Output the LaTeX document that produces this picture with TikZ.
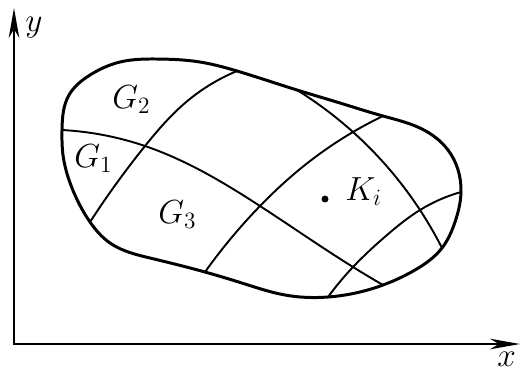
\RequirePackage{fix-cm}
\documentclass[tikz,border=0pt]{standalone}
\usetikzlibrary{arrows.meta, hobby}

\begin{document}
\begin{tikzpicture}[x=0.02cm, y=-0.02cm, font=\fontsize{19}{23}\selectfont,
    axis/.style={line width=1.4pt, {Stealth[length=17pt, width=6pt, inset=5pt]}-{Stealth[length=17pt, width=6pt, inset=5pt]}},
    rim/.style={line width=1.7pt},
    cut/.style={line width=1.1pt},
    lbl/.style={anchor=base west, inner sep=0pt}]
    \useasboundingbox (0,0) rectangle (520,370);
    % axes
    \coordinate (O) at (14,344);
    \coordinate (xend) at (520,344);
    \coordinate (yend) at (14,8);
    \draw[axis] (yend) |- (xend);
    \node[lbl] (ylab) at (25,31) {$y$};
    \node[lbl] (xlab) at (497,366) {$x$};
    % points where the cuts meet the rim
    \coordinate (a1) at (62,130);  \coordinate (a2) at (383,285);
    \coordinate (b1) at (237,71);  \coordinate (b2) at (90,222);
    \coordinate (c1) at (297,90);  \coordinate (c2) at (442,248);
    \coordinate (d1) at (383,116); \coordinate (d2) at (205,272);
    \coordinate (e1) at (461,192); \coordinate (e2) at (328,297);
    % crossings
    \coordinate (ab) at (145,146);
    \coordinate (ad) at (260,206);
    \coordinate (cd) at (353,132);
    \coordinate (ce) at (420,210);
    \coordinate (ae) at (353,267);
    % region
    \draw[rim] plot[closed hobby] coordinates {
        (a1) (69,95) (90,75) (120,62) (157,59) (200,62) (b1) (c1) (340,103)
        (d1) (422,129) (448,150) (e1) (455,222) (c2) (415,270) (a2) (e2)
        (285,295) (245,284) (d2) (150,258) (110,243) (b2) (72,188) (63,155)};
    % cuts
    \draw[cut] plot[hobby] coordinates {(a1) (ab) (ad) (ae) (a2)};
    \draw[cut] plot[hobby] coordinates {(b1) (185,103) (ab) (b2)};
    \draw[cut] plot[hobby] coordinates {(c1) (cd) (ce) (c2)};
    \draw[cut] plot[hobby] coordinates {(d1) (cd) (300,169) (ad) (d2)};
    \draw[cut] plot[hobby] coordinates {(e1) (ce) (387,235) (ae) (e2)};
    % labels
    \node[lbl] (G2) at (112,108) {$G_2$};
    \node[lbl] (G1) at (74,167) {$G_1$};
    \node[lbl] (G3) at (158,223) {$G_3$};
    \node[circle, fill, inner sep=1.4pt] (dot) at (325,199) {};
    \node[lbl] (Ki) at (345,200) {$K_i$};
\end{tikzpicture}
\end{document}
